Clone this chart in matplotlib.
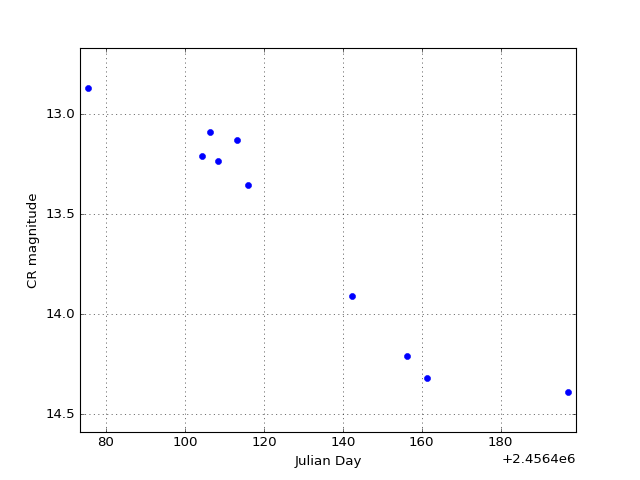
import matplotlib
matplotlib.use("Agg")
import matplotlib.pyplot as plt
import numpy as np

plt.style.use('classic')

jd_offset = 2456400.0
days = [75.4, 104.3, 106.3, 108.3, 113.2, 116.1, 142.4, 156.3, 161.3, 197.1]
mags = [12.87, 13.21, 13.089, 13.235, 13.132, 13.355, 13.91, 14.21, 14.32, 14.39]

x = np.array(days) + jd_offset
y = np.array(mags)

fig = plt.figure(figsize=(8, 6), dpi=80)
ax = fig.add_subplot(111)
ax.plot(x, y, 'o', color='blue', markeredgecolor='blue', markersize=5.5)
ax.set_xlim(x.min() - 2, x.max() + 2)
ax.set_ylim(y.max() + 0.2, y.min() - 0.2)
ax.xaxis.get_major_formatter().set_useOffset(jd_offset)
ax.grid(True)
ax.set_xlabel('Julian Day')
ax.set_ylabel('CR magnitude')
fig.savefig('out.png', dpi=80)
